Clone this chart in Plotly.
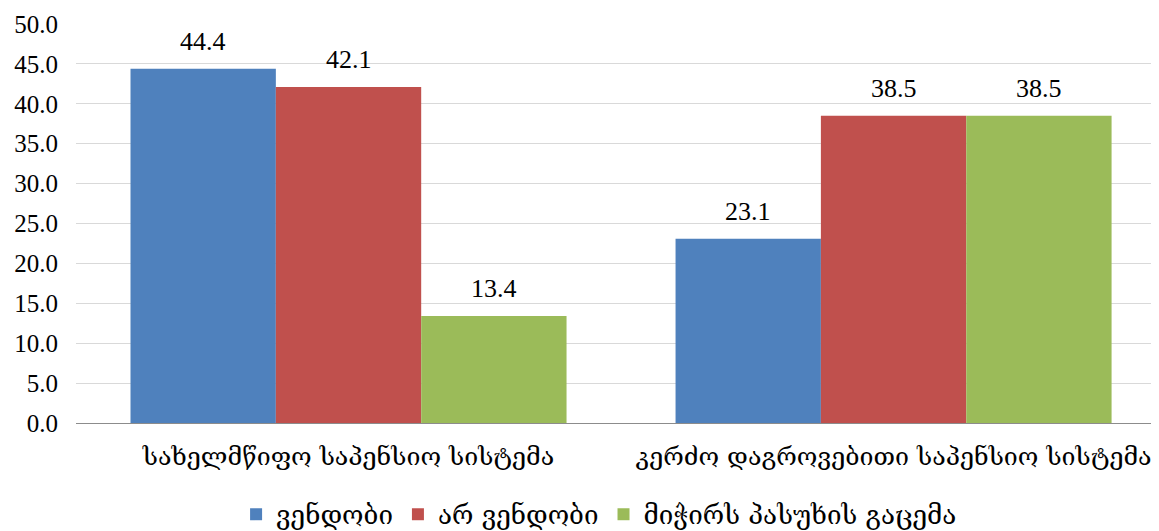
import plotly.graph_objects as go

categories = ["სახელმწიფო საპენსიო სისტემა", "კერძო დაგროვებითი საპენსიო სისტემა"]
series_names = ["ვენდობი", "არ ვენდობი", "მიჭირს პასუხის გაცემა"]
values_trust = [44.4, 23.1]
values_distrust = [42.1, 38.5]
values_hard = [13.4, 38.5]
colors = ["#4F81BD", "#C0504D", "#9BBB59"]
tick_vals = [0, 5, 10, 15, 20, 25, 30, 35, 40, 45, 50]

FONT = "Liberation Serif"
GFONT = "DejaVu Serif"
BARGAP = 0.2

all_series = [values_trust, values_distrust, values_hard]
n_series = len(all_series)
bar_w = (1 - BARGAP) / n_series

fig = go.Figure()
for name, vals, col in zip(series_names, all_series, colors):
    fig.add_trace(go.Bar(
        x=list(range(len(categories))), y=vals, name=name,
        marker=dict(color=col, line=dict(width=0)),
    ))

annotations = []
for k, vals in enumerate(all_series):
    for i, v in enumerate(vals):
        annotations.append(dict(
            x=i + (k - (n_series - 1) / 2) * bar_w, y=v, xref="x", yref="y",
            text=f"{v:.1f}", showarrow=False, yanchor="bottom", yshift=11,
            font=dict(family=FONT, size=26, color="#000000"),
        ))

fig.update_layout(
    width=1151, height=523,
    margin=dict(l=68, r=0, t=16, b=108, autoexpand=False),
    barmode="group", bargap=BARGAP, bargroupgap=0,
    plot_bgcolor="white", paper_bgcolor="white",
    font=dict(family=FONT, size=25, color="#000000"),
    showlegend=True,
    annotations=annotations,
    legend=dict(orientation="h", x=0.483, xanchor="center", y=-0.17, yanchor="top",
                font=dict(family=GFONT, size=26), itemsizing="constant",
                traceorder="normal"),
    xaxis=dict(range=[-0.5, 1.487], tickvals=[0, 1], ticktext=categories,
               showgrid=False, ticks="", tickfont=dict(family=GFONT, size=25),
               ticklabelstandoff=11,
               showline=True, linecolor="#8C8C8C", linewidth=1, automargin=False),
    yaxis=dict(range=[0, 50], tickvals=tick_vals, tickformat=".1f",
               showgrid=True, gridcolor="#D9D9D9", gridwidth=1,
               zeroline=False, ticks="", tickfont=dict(family=FONT, size=25),
               ticklabelstandoff=17,
               showline=False, automargin=False),
)

fig.write_html("out.html")
